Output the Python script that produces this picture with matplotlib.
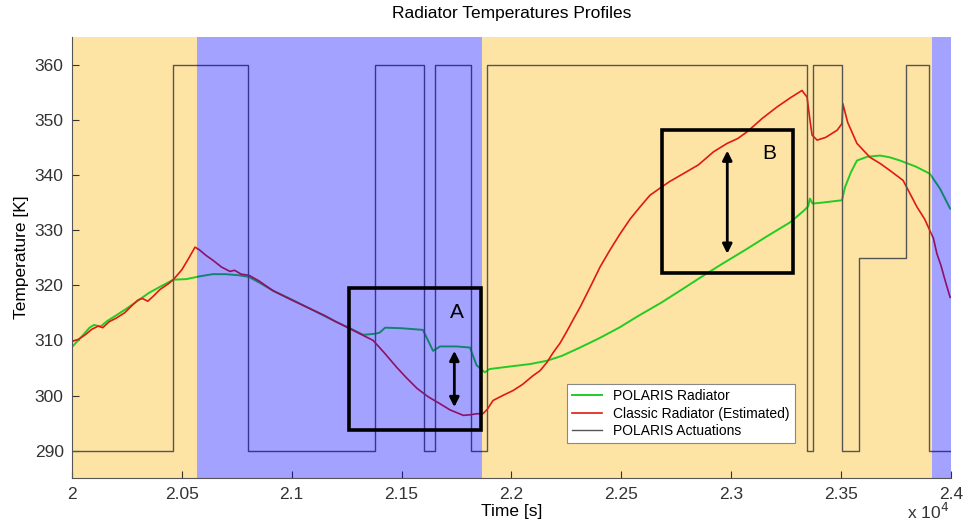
import matplotlib.pyplot as plt
from matplotlib.patches import Rectangle

plt.rcParams['font.family'] = ['Liberation Sans', 'DejaVu Sans']

# радиатор POLARIS
g_t = [20000, 20040, 20080, 20100, 20130, 20160, 20200, 20250, 20300, 20350,
       20400, 20461, 20520, 20580, 20640, 20700, 20760, 20805, 20860, 20915,
       20990, 21070, 21150, 21200, 21265, 21325, 21380, 21400, 21425, 21500,
       21597, 21620, 21643, 21675, 21750, 21811, 21841, 21879, 21900, 22000,
       22084, 22161, 22230, 22312, 22400, 22494, 22580, 22680, 22767, 22860,
       22960, 23060, 23160, 23268, 23330, 23350, 23358, 23370, 23420, 23504,
       23518, 23545, 23572, 23620, 23677, 23720, 23768, 23840, 23904, 23950,
       23996]
g_v = [308.8, 310.5, 312.3, 312.8, 312.5, 313.5, 314.5, 315.8, 317.2, 318.6,
       319.7, 321.0, 321.1, 321.6, 322.0, 322.0, 321.8, 321.5, 320.3, 319.0,
       317.6, 316.0, 314.4, 313.4, 312.2, 311.0, 311.2, 311.4, 312.3, 312.2,
       311.9, 310.0, 308.1, 308.9, 308.9, 308.7, 305.5, 304.2, 304.8, 305.3,
       305.7, 306.3, 307.2, 308.7, 310.4, 312.4, 314.5, 316.8, 319.0, 321.4,
       323.9, 326.3, 328.8, 331.4, 333.5, 334.3, 335.7, 334.8, 335.0, 335.4,
       337.8, 340.5, 342.6, 343.3, 343.5, 343.2, 342.6, 341.5, 340.2, 337.5,
       333.9]

# классический радиатор (оценка)
r_t = [20000, 20030, 20060, 20090, 20120, 20140, 20170, 20200, 20240, 20270,
       20300, 20320, 20345, 20370, 20400, 20440, 20461, 20500, 20530, 20560,
       20580, 20610, 20642, 20680, 20719, 20740, 20770, 20805, 20850, 20915,
       20990, 21070, 21150, 21200, 21265, 21330, 21370, 21420, 21478, 21520,
       21570, 21620, 21675, 21720, 21781, 21810, 21843, 21870, 21890, 21916,
       21960, 22007, 22050, 22098, 22130, 22161, 22190, 22221, 22250, 22280,
       22312, 22360, 22403, 22450, 22494, 22540, 22585, 22630, 22676, 22720,
       22781, 22850, 22920, 22981, 23030, 23072, 23140, 23208, 23270, 23322,
       23345, 23358, 23368, 23391, 23430, 23482, 23504, 23508, 23530, 23572,
       23631, 23680, 23722, 23782, 23845, 23880, 23904, 23920, 23936, 23955,
       23973, 23996]
r_v = [309.8, 310.2, 311.0, 312.0, 312.6, 312.3, 313.4, 314.0, 315.0, 316.2,
       317.3, 317.6, 317.1, 318.0, 319.2, 320.3, 321.0, 322.8, 324.8, 326.9,
       326.4, 325.4, 324.5, 323.3, 322.5, 322.7, 322.0, 321.8, 320.8, 319.0,
       317.5, 316.0, 314.5, 313.4, 312.1, 310.8, 310.0, 307.8, 305.1, 303.3,
       301.3, 299.8, 298.5, 297.4, 296.4, 296.5, 296.7, 296.7, 297.5, 299.1,
       300.0, 300.9, 302.0, 303.6, 304.5, 306.0, 307.8, 309.5, 311.5, 313.7,
       316.0, 319.8, 323.3, 326.5, 329.3, 332.0, 334.2, 336.3, 337.6, 338.8,
       340.2, 341.8, 344.2, 345.7, 346.6, 347.8, 350.2, 352.3, 354.0, 355.3,
       354.1, 350.0, 347.2, 346.3, 346.8, 348.1, 349.3, 352.9, 349.5, 345.7,
       343.2, 342.0, 340.8, 339.0, 334.2, 332.0, 329.9, 328.5, 325.7, 323.5,
       320.9, 317.8]

# срабатывания POLARIS (ступенчатый сигнал)
act_t = [20000, 20461, 20802, 21379, 21602, 21652, 21816, 21890, 23346, 23370,
         23505, 23581, 23795, 23900, 24000]
act_v = [290, 360, 290, 360, 290, 360, 290, 360, 290, 360, 290, 325, 360, 290, 290]

# освещённые / теневые участки орбиты
sun_spans = [(20000, 20570), (21865, 23912)]
shadow_spans = [(20570, 21865), (23912, 24000)]

# выделенные области A и B: (t0, t1, T0, T1), стрелка (t, T_низ, T_верх)
boxes = {'A': (21260, 21861, 293.8, 319.5), 'B': (22683, 23282, 322.2, 348.2)}
arrows = {'A': (21740, 297.9, 308.1), 'B': (22982, 325.7, 344.4)}
labels = {'A': (21750, 315.1), 'B': (23173, 343.8)}

fig = plt.figure(figsize=(9.7, 5.32), dpi=100)
ax = fig.add_axes([0.0742, 0.101, 0.9062, 0.8295])

for t0, t1 in sun_spans:
    ax.axvspan(t0, t1, color='#fde4a5', lw=0, zorder=0)

ax.plot(g_t, g_v, color='#22cc22', lw=1.4, label='POLARIS Radiator', zorder=2)
ax.plot(r_t, r_v, color='#e01a10', lw=1.2, label='Classic Radiator (Estimated)', zorder=2)
ax.plot(act_t, act_v, color='#555555', lw=1.0, drawstyle='steps-post',
        label='POLARIS Actuations', zorder=2)

for t0, t1 in shadow_spans:
    ax.axvspan(t0, t1, color=(0, 0, 1), alpha=0.36, lw=0, zorder=3)

for k, (t0, t1, y0, y1) in boxes.items():
    ax.add_patch(Rectangle((t0, y0), t1 - t0, y1 - y0, fill=False,
                           ec='black', lw=2.6, zorder=5))
    at, ay0, ay1 = arrows[k]
    ax.annotate('', xy=(at, ay0), xytext=(at, ay1),
                arrowprops=dict(arrowstyle='<|-|>', color='black', lw=2,
                                mutation_scale=14, shrinkA=0, shrinkB=0),
                zorder=5)
    lx, ly = labels[k]
    ax.text(lx, ly, k, fontsize=15, ha='center', va='center', zorder=5)

ax.set_xlim(20000, 24000)
ax.set_ylim(285, 365)
xt = [20000, 20500, 21000, 21500, 22000, 22500, 23000, 23500, 24000]
ax.set_xticks(xt)
ax.set_xticklabels(['%g' % (v / 1e4) for v in xt])
ax.set_yticks([290, 300, 310, 320, 330, 340, 350, 360])
ax.tick_params(direction='in', length=5, labelsize=12.5, colors='#333333',
               pad=6)
for s in ['top', 'right']:
    ax.spines[s].set_visible(False)
for s in ['left', 'bottom']:
    ax.spines[s].set_color('#555555')

ax.set_xlabel('Time [s]', fontsize=12.5, labelpad=2)
ax.set_ylabel('Temperature [K]', fontsize=12.5, labelpad=4)
ax.set_title('Radiator Temperatures Profiles', fontsize=12.5, pad=14)
fig.text(0.957, 0.018, r'x 10$^4$', fontsize=12.5, ha='center', va='bottom',
         color='#333333')

leg = ax.legend(loc='lower left', bbox_to_anchor=(0.555, 0.064), fontsize=10,
                frameon=True, fancybox=False, edgecolor='#888888',
                facecolor='white', framealpha=1,
                handlelength=2.2, borderpad=0.35, labelspacing=0.25)
leg.get_frame().set_linewidth(0.8)
leg.set_zorder(6)

fig.savefig('out.png', dpi=100)
